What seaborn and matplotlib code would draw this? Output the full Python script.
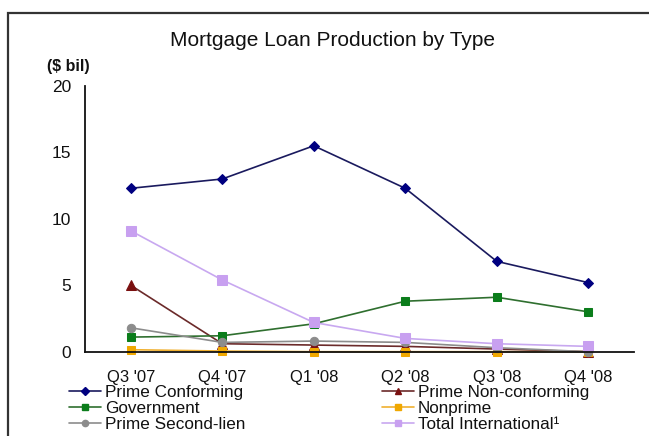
import matplotlib
matplotlib.use("Agg")
import matplotlib.pyplot as plt
from matplotlib.patches import Rectangle
from matplotlib.lines import Line2D
import numpy as np
import pandas as pd
import seaborn as sns

quarters = ["Q3 '07", "Q4 '07", "Q1 '08", "Q2 '08", "Q3 '08", "Q4 '08"]
prime_conforming = [12.3, 13.0, 15.5, 12.3, 6.8, 5.2]
prime_nonconforming = [5.0, 0.6, 0.5, 0.4, 0.2, 0.0]
government = [1.1, 1.2, 2.1, 3.8, 4.1, 3.0]
nonprime = [0.15, 0.05, 0.0, 0.0, 0.0, 0.0]
prime_second_lien = [1.8, 0.7, 0.8, 0.7, 0.3, 0.0]
total_international = [9.1, 5.4, 2.2, 1.0, 0.6, 0.4]
series_names = ["Prime Conforming", "Prime Non-conforming", "Government",
                "Nonprime", "Prime Second-lien", "Total International\u00b9"]
y_ticks = [0, 5, 10, 15, 20]

series_values = [prime_conforming, prime_nonconforming, government,
                 nonprime, prime_second_lien, total_international]
colors = ["#000080", "#7a1010", "#0b7d1b", "#f0a800", "#8c8c8c", "#c8a0f0"]
line_colors = ["#1a1a5e", "#6b2a2a", "#2f6f2f", "#f0b030", "#8c8c8c", "#c8a8f0"]
markers = ["D", "^", "s", "s", "o", "s"]
msizes = [5.5, 6.5, 5.5, 6, 6, 6.5]

sns.set_theme(style="white")
plt.rcParams["font.family"] = ["Liberation Sans", "DejaVu Sans"]

fig = plt.figure(figsize=(6.49, 4.36), dpi=100)
ax = fig.add_axes([85 / 649, 1 - 351.7 / 436, (634 - 85) / 649, (351.7 - 86) / 436])

x_pos = np.arange(len(quarters))
handles = []
for name, vals, c, lc, m, ms in zip(series_names, series_values, colors, line_colors, markers, msizes):
    df = pd.DataFrame({"x": x_pos, "y": vals})
    sns.lineplot(data=df, x="x", y="y", ax=ax, color=lc, linewidth=1.2,
                 marker=m, markersize=ms, markerfacecolor=c, markeredgecolor=c,
                 clip_on=False, legend=False)
    handles.append(Line2D([0], [0], color=lc, linewidth=1.2, marker=m,
                          markersize=ms - 1.5, markerfacecolor=c, markeredgecolor=c))

ax.set_xlim(-0.5, len(quarters) - 0.5)
ax.set_ylim(0, 20)
ax.set_yticks(y_ticks)
ax.set_xticks(x_pos)
ax.set_xticklabels(quarters)
ax.set_xticks(np.arange(-0.5, len(quarters), 1.0), minor=True)
ax.set_xlabel("")
ax.set_ylabel("")
ax.tick_params(axis="x", which="major", length=0, pad=13, labelsize=12, colors="#111111")
ax.tick_params(axis="x", which="minor", length=4, width=1.2, direction="out", color="#111111")
ax.tick_params(axis="y", which="major", length=4, width=1.2, direction="out", pad=6,
               labelsize=12.5, colors="#111111")
ax.tick_params(axis="both", labelcolor="#111111")
for s in ["top", "right"]:
    ax.spines[s].set_visible(False)
for s in ["left", "bottom"]:
    ax.spines[s].set_color("#111111")
    ax.spines[s].set_linewidth(1.3)
ax.set_facecolor("white")

fig.text(333 / 649, 1 - 40 / 436, "Mortgage Loan Production by Type", ha="center", va="center",
         fontsize=15, color="#111111")
fig.text(68 / 649, 1 - 67 / 436, "($ bil)", ha="center", va="center", fontsize=11.5,
         fontweight="bold", color="#111111")

# slide frame
fig.patches.append(Rectangle((8.3 / 649, -0.2), 1.5, 1 - 13.3 / 436 + 0.2,
                             transform=fig.transFigure, fill=False,
                             edgecolor="#333333", linewidth=1.6))

order = [0, 2, 4, 1, 3, 5]
leg = fig.legend([handles[i] for i in order], [series_names[i] for i in order],
                 loc="upper left", bbox_to_anchor=(69 / 649, 1 - 385 / 436), ncol=2,
                 frameon=False, fontsize=12.3, handlelength=1.9, handletextpad=0.2,
                 labelspacing=0.06, columnspacing=8.0, borderaxespad=0, borderpad=0)
for t in leg.get_texts():
    t.set_color("#111111")

fig.savefig("out.png", dpi=100)
